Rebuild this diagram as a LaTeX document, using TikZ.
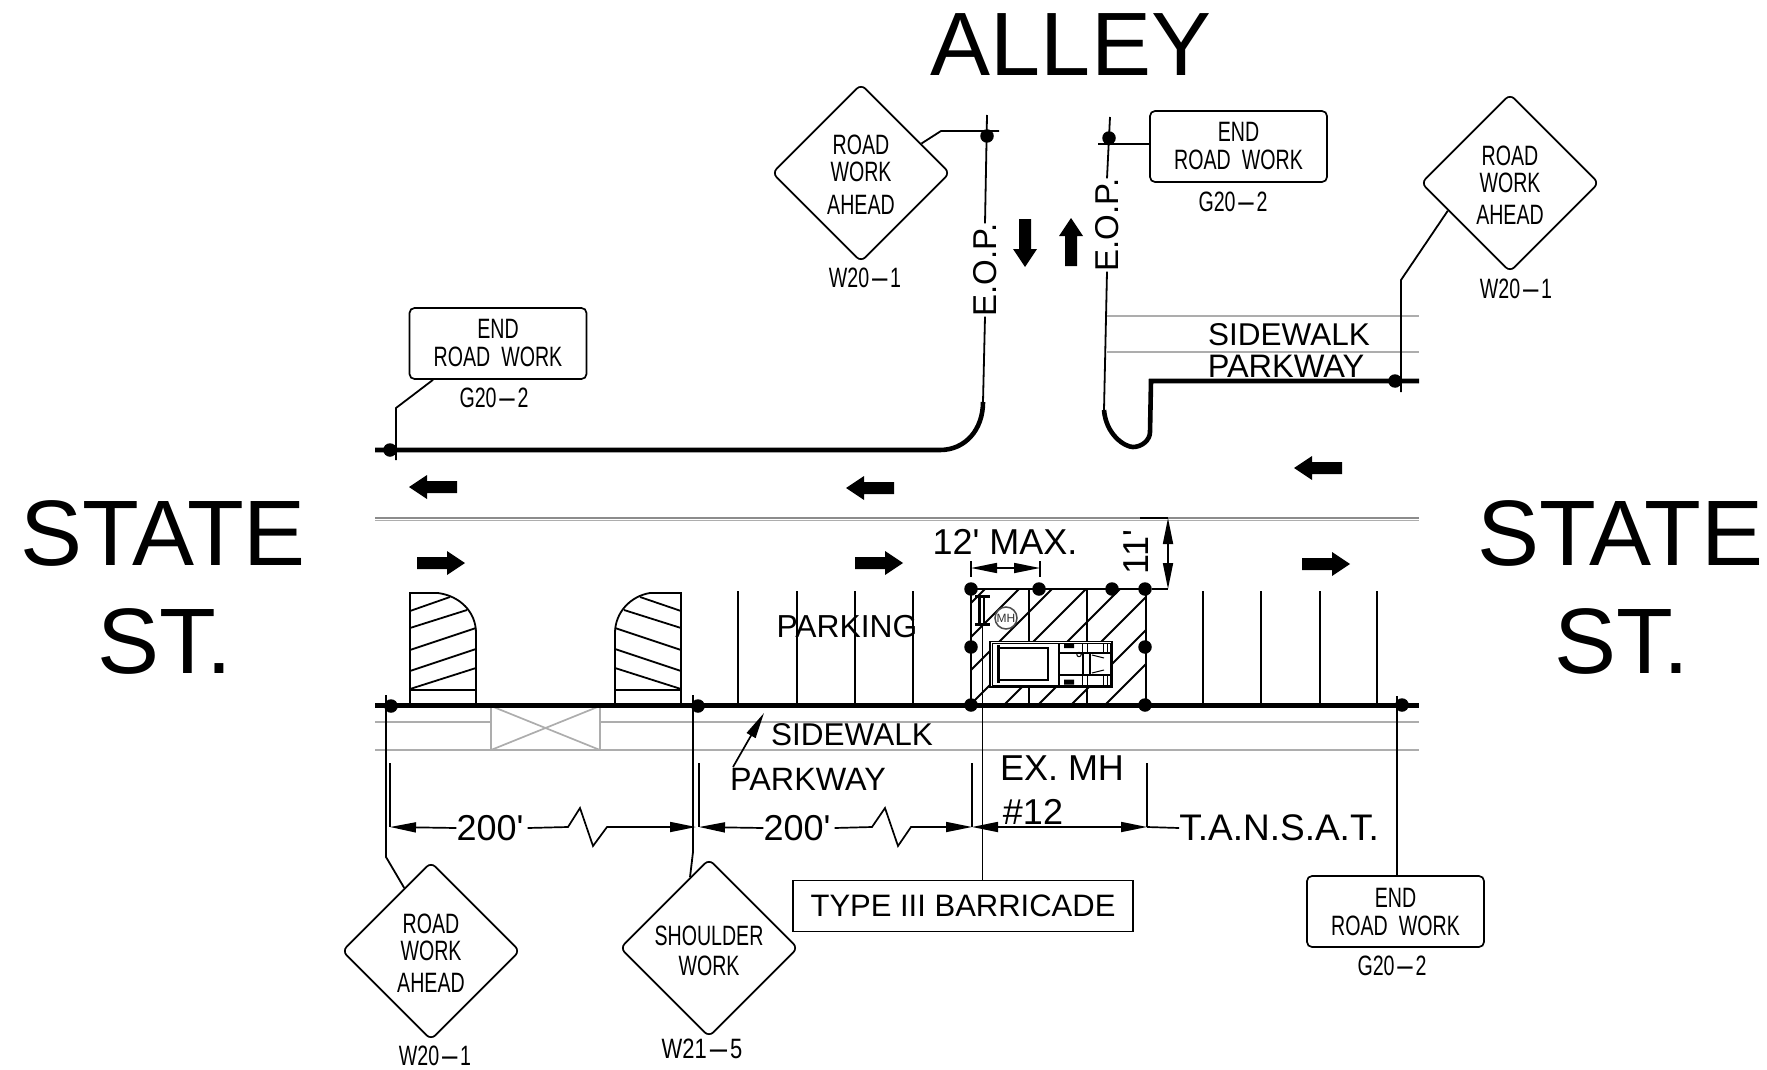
\documentclass[tikz,border=0pt]{standalone}
\usepackage{fontspec}
\setmainfont{Liberation Sans}
\newfontfamily\pf{Liberation Sans}
\newfontfamily\signfont[FakeStretch=0.70]{Liberation Sans}
\usetikzlibrary{shapes.geometric,arrows.meta}
\newcommand{\signdash}{\scalebox{3.2}[1]{-}}
\newcommand{\fsz}[1]{\fontsize{#1}{#1}\selectfont}
\tikzset{
  thin line/.style={line width=1.8pt,draw=black},
  curb/.style={line width=4.6pt,draw=black},
  grayline/.style={line width=1.7pt,draw=black!32},
  centreline/.style={line width=2pt,draw=black!45},
  dot/.style={circle,fill=black,inner sep=0pt,minimum size=13.5pt},
  warnsign/.style={diamond,aspect=1,draw=black,line width=1.7pt,rounded corners=6pt,inner sep=0pt,minimum width=178pt,minimum height=178pt,align=center,font=\signfont\fsz{28}},
  endsign/.style={rectangle,draw=black,line width=1.7pt,rounded corners=5pt,inner sep=0pt,minimum width=177pt,minimum height=71pt,align=center,font=\signfont\fsz{28}},
  code/.style={font=\signfont\fsz{28},inner sep=0pt},
  big/.style={font=\pf\fsz{93},inner sep=0pt},
  lab/.style={font=\pf\fsz{33},inner sep=0pt},
  labb/.style={font=\pf\fsz{36},inner sep=0pt},
  dim/.style={line width=1.7pt,draw=black},
  tipb/.style={{Triangle[length=26pt,width=10pt]}-},
  tipe/.style={-{Triangle[length=26pt,width=10pt]}},
  tipbe/.style={{Triangle[length=26pt,width=10pt]}-{Triangle[length=26pt,width=10pt]}},
  blockarr/.pic={\fill[black] (-24,-6) -- (6,-6) -- (6,-12) -- (24,0) -- (6,12) -- (6,6) -- (-24,6) -- cycle;}
}
\begin{document}
\begin{tikzpicture}[x=1pt,y=-1pt]
\useasboundingbox (0,0) rectangle (1767,1070);
% titles
\node[big,font=\pf\fsz{90}] (alley) at (1071,45) {ALLEY};
\node[big] (st1) at (163,533) {STATE};
\node[big] (st2) at (165,641) {ST.};
\node[big] (st3) at (1620,533) {STATE};
\node[big] (st4) at (1622,641) {ST.};
% gray lines
\draw[centreline] (375,517.5) -- (1419,517.5);
\draw[grayline] (375,520.5) -- (1419,520.5);
\draw[grayline] (375,722) -- (491,722) (600,722) -- (1419,722);
\draw[grayline] (375,750) -- (1419,750);
\draw[grayline] (1107,316) -- (1419,316);
\draw[grayline] (1107,352) -- (1419,352);
\draw[grayline] (491,706) rectangle (600,750);
\draw[grayline] (491,706) -- (600,750) (491,750) -- (600,706);
% parking stalls
\foreach \x in {738,797,855,913,1203,1261,1320,1377}
  \draw[thin line] (\x,591) -- (\x,705);
% driveways
\draw[thin line] (410,705) -- (410,593) -- (438,593) .. controls (460,596) and (476,612) .. (476,633) -- (476,705);
\draw[thin line] (410,690) -- (476,690);
\draw[thin line] (410,611) -- (450,597) (410,628) -- (467,610) (410,650) -- (476,628) (410,671) -- (476,649) (410,689) -- (476,668);
\draw[thin line] (681,705) -- (681,593) -- (650,593) .. controls (631,596) and (615,612) .. (615,633) -- (615,705);
\draw[thin line] (615,690) -- (681,690);
\draw[thin line] (681,611) -- (640,597) (681,628) -- (624,610) (681,650) -- (615,628) (681,671) -- (615,649) (681,689) -- (615,668);
% work zone
\begin{scope}
\clip (971,589) rectangle (1146,705);
\foreach \s in {1574,1608,1641,1675,1709,1743,1776,1810}
  \draw[thin line] (\s-589,589) -- (\s-705,705);
\end{scope}
\draw[thin line] (971,589) rectangle (1146,705);
\draw[thin line] (1029,589) -- (1029,705) (1087,589) -- (1087,705);
% vehicle
\filldraw[fill=white,draw=black,line width=1.4pt] (990,641.5) rectangle (1112,687);
\draw[line width=1pt] (992,643.5) rectangle (1110,685);
\draw[line width=1.6pt] (998,648) rectangle (1048,680);
\draw[line width=2.6pt] (998.5,645) -- (998.5,683);
\draw[line width=1.6pt] (1059,643) -- (1059,685);
\draw[line width=1.2pt] (1060,653) -- (1110,653) (1060,675) -- (1110,675);
\fill (1064,643.5) rectangle (1074,648) (1064,679.5) rectangle (1074,684.5);
\draw[line width=1pt] (1082,643) -- (1082,653) (1087,643) -- (1087,653) (1082,675) -- (1082,685) (1087,675) -- (1087,685) (1103,643) -- (1103,653) (1107,643) -- (1107,653) (1103,675) -- (1103,685) (1107,675) -- (1107,685);
\draw[line width=1.8pt] (1083,653) -- (1090,653) -- (1090,675) -- (1083,675) -- cycle;
\draw[line width=1pt] (1092,655) -- (1104,658) (1092,673) -- (1104,670);
\draw[line width=1pt] (1079,654.5) circle (2.2pt);
% manhole and barricade symbol
\draw[line width=1.5pt,draw=black!70] (1006,618) circle (11pt);
\node[font=\pf\fsz{12},inner sep=0pt,text=black!80] (mh) at (1006,618) {MH};
\draw[line width=2.8pt] (975,596.5) -- (990,596.5) (975,624.5) -- (990,624.5);
\draw[line width=2.2pt] (979.5,597) -- (979.5,624) (984,597) -- (984,624);
% curbs
\draw[curb] (375,705.5) -- (1419,705.5);
\draw[curb] (375,450) -- (940,450) .. controls (965,450) and (983,430) .. (983,402);
\draw[curb] (1104,410) .. controls (1106,435) and (1125,447) .. (1133,447) .. controls (1142,447) and (1150,440) .. (1150,432) -- (1151,381) -- (1419,381);
% EOP
\node[lab,rotate=90] (eop1) at (985,270) {E.O.P.};
\node[lab,rotate=90] (eop2) at (1107,225) {E.O.P.};
\coordinate (c1) at (983,402);
\coordinate (c2) at (987,115);
\coordinate (c3) at (1110,117);
\coordinate (c4) at (1104,410);
\draw[thin line] (c1) -- (eop1.west);
\draw[thin line] (eop1.east) -- (c2);
\draw[thin line] (c3) -- (eop2.east);
\draw[thin line] (eop2.west) -- (c4);
\pic[rotate=-90] at (1025,243) {blockarr};
\pic[rotate=90] at (1071,242) {blockarr};
% road arrows
\pic[rotate=180] at (433,487) {blockarr};
\pic[rotate=180] at (870,488) {blockarr};
\pic[rotate=180] at (1318,468) {blockarr};
\pic at (441,563) {blockarr};
\pic at (879,563) {blockarr};
\pic at (1326,564) {blockarr};
% signs
\node[warnsign] (d1) at (861,173) {\rule{0pt}{23pt}ROAD\\[-1pt]WORK\\[4pt]AHEAD};
\node[warnsign] (d2) at (1510,183) {\rule{0pt}{23pt}ROAD\\[-1pt]WORK\\[4pt]AHEAD};
\node[warnsign] (d3) at (431,951) {\rule{0pt}{23pt}ROAD\\[-1pt]WORK\\[4pt]AHEAD};
\node[warnsign] (d4) at (709,948) {\rule{0pt}{25pt}SHOULDER\\[2pt]WORK};
\node[endsign] (e1) at (1238.5,146.5) {END\\ROAD\hspace{0.2em} WORK};
\node[endsign] (e2) at (498,343.5) {END\\ROAD\hspace{0.2em} WORK};
\node[endsign] (e3) at (1395.5,911.5) {END\\ROAD\hspace{0.2em} WORK};
\node[code] (g1) at (1233,202) {G20\signdash2};
\node[code] (g2) at (494,398) {G20\signdash2};
\node[code] (g3) at (1392,966) {G20\signdash2};
\node[code] (w1) at (865,278) {W20\signdash1};
\node[code] (w2) at (1516,289) {W20\signdash1};
\node[code] (w3) at (435,1056) {W20\signdash1};
\node[code] (w4) at (702,1049) {\scalebox{1.12}[1]{W21\signdash5}};
% dots
\node[dot] (p1) at (987,136) {};
\node[dot] (p2) at (1109,138) {};
\node[dot] (p3) at (390,450) {};
\node[dot] (p4) at (1395,381) {};
\node[dot] (p5) at (391,706) {};
\node[dot] (p6) at (698,706) {};
\node[dot] (p7) at (1402,705) {};
\node[dot] (z1) at (971,589) {};
\node[dot] (z2) at (1039,589) {};
\node[dot] (z3) at (1112,589) {};
\node[dot] (z4) at (1145,589) {};
\node[dot] (z5) at (971,647) {};
\node[dot] (z6) at (1145,647) {};
\node[dot] (z7) at (971,705) {};
\node[dot] (z8) at (1145,705) {};
% leaders
\coordinate (t1) at (999,131);
\coordinate (t2) at (1098,144);
\draw[thin line] (d1.26) -- (941,131) -- (t1);
\draw[thin line] (t2) -- (e1.west |- t2);
\coordinate (e2a) at (e2.south);
\draw[thin line] (e2a) ++(-65,0) -- (396,408) -- (396,460);
\coordinate (t3) at (1401,392);
\draw[thin line] (t3) -- (1401,280) -- (d2.204);
\coordinate (t4) at (386,695);
\draw[thin line] (t4) -- (386,857) -- (d3.113);
\coordinate (t5) at (693,695);
\draw[thin line] (t5) -- (693,852) -- (d4.105);
\coordinate (t6) at (1397,696);
\draw[thin line] (t6) -- (1397,876);
% barricade
\node[draw=black,line width=1.7pt,minimum width=340pt,minimum height=51pt,inner sep=0pt,font=\pf\fsz{31}] (bar) at (963,906) {TYPE III BARRICADE};
\draw[thin line] (982.5,623) -- (bar.north -| 982.5,0);
% text
\node[lab,font=\pf\fsz{31.8}] (park) at (847,627) {PARKING};
\node[lab,font=\pf\fsz{31.5}] (side1) at (852,735) {SIDEWALK};
\node[lab,font=\pf\fsz{32.3}] (pkw1) at (808,779) {PARKWAY};
\node[lab,font=\pf\fsz{31.5}] (side2) at (1289,335) {SIDEWALK};
\node[lab,font=\pf\fsz{32.5}] (pkw2) at (1286,366) {PARKWAY};
\node[labb] (max) at (1005,542) {12' MAX.};
\node[labb,rotate=90] (eleven) at (1136,552) {11'};
\node[labb] (exmh) at (1062,768) {EX. MH};
\node[labb] (num) at (1033,812) {\#12};
\node[labb,font=\pf\fsz{37}] (tan) at (1279,828) {T.A.N.S.A.T.};
\node[labb] (d200a) at (490,828) {200'};
\node[labb] (d200b) at (797,828) {200'};
% arrow to sidewalk
\coordinate (s1) at (733,767);
\coordinate (s2) at (764,713);
\draw[dim,tipe] (s1) -- (s2);
% dimensions
\coordinate (a0) at (390,827);
\coordinate (a1) at (696,827);
\coordinate (a2) at (699,827);
\coordinate (a3) at (972,827);
\coordinate (a4) at (1147,827);
\draw[dim] (390,763) -- (a0) (699,763) -- (a2) (972,763) -- (a3) (1147,763) -- (a4);
\draw[dim,tipb] (a0) -- (d200a.west);
\draw[dim,tipe] (d200a.east) ++(4,0) -- (568,827) -- (580,808) -- (593,846) -- (607,827) -- (a1);
\draw[dim,tipb] (a2) -- (d200b.west);
\draw[dim,tipe] (d200b.east) ++(4,0) -- (872,827) -- (885,808) -- (898,846) -- (911,827) -- (a3);
\draw[dim,tipbe] (a3) -- (a4);
\draw[dim] (a4) -- (tan.west);
\coordinate (m1) at (971,568);
\coordinate (m2) at (1040,568);
\draw[dim,tipbe] (m1) -- (m2);
\draw[line width=1.2pt] (971,561) -- (971,577) (1040,561) -- (1040,577);
\coordinate (h1) at (1168,518);
\coordinate (h2) at (1168,589);
\draw[dim,tipbe] (h1) -- (h2);
\draw[dim] (z4) -- (h2);
\draw[line width=2pt] (1140,518) -- (h1);
\end{tikzpicture}
\end{document}
